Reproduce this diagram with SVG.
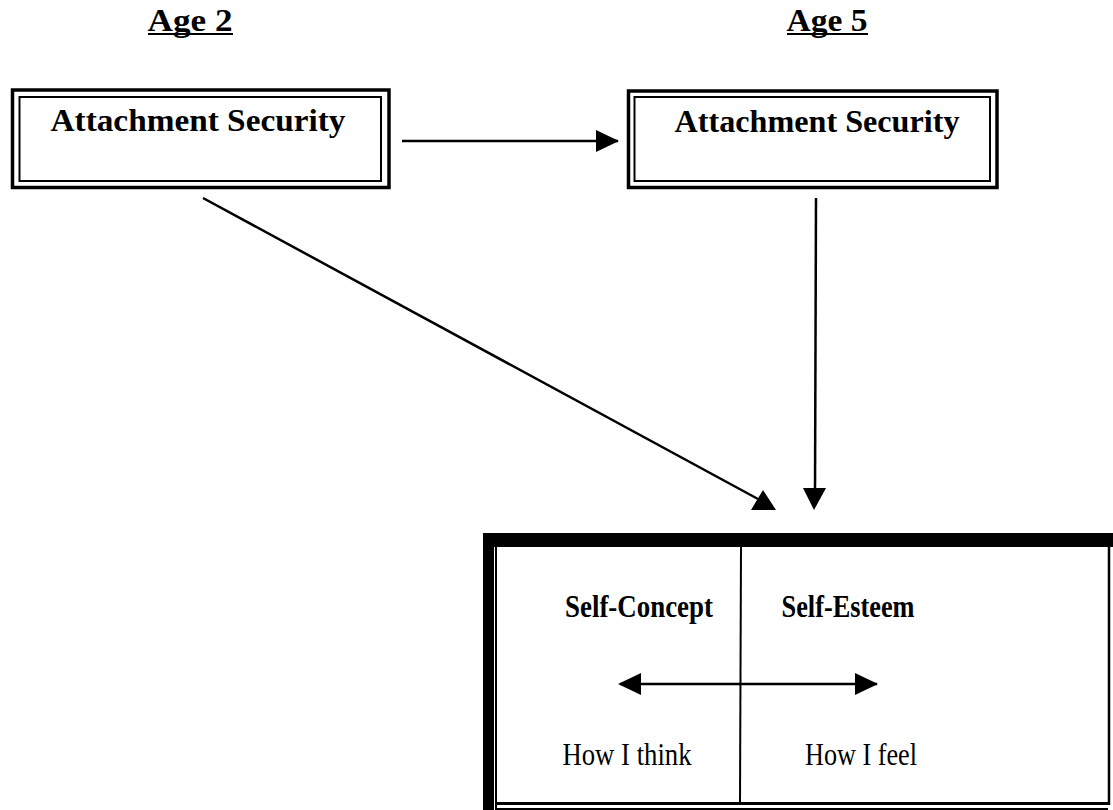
<svg xmlns="http://www.w3.org/2000/svg" width="1113" height="810" viewBox="0 0 1113 810">
<style>
  .t { font-family: "Liberation Serif", "Times New Roman", serif; fill: #000; }
  .b { font-weight: bold; }
  .ln { stroke: #000; stroke-width: 2.5; fill: none; }
  .outer { stroke: #000; stroke-width: 3.5; fill: #fff; }
  .inner { stroke: #000; stroke-width: 2; fill: none; }
</style>
<defs>
  <marker id="ah" markerWidth="24" markerHeight="22" refX="22" refY="11" orient="auto" markerUnits="userSpaceOnUse">
    <path d="M0,0 L23,11 L0,22 Z" fill="#000"/>
  </marker>
  <marker id="ahs" markerWidth="24" markerHeight="22" refX="2" refY="11" orient="auto" markerUnits="userSpaceOnUse">
    <path d="M23,0 L0,11 L23,22 Z" fill="#000"/>
  </marker>
</defs>
<rect width="1113" height="810" fill="#fff"/>

<g id="labels">
  <text class="t b" x="190" y="31" font-size="31" text-anchor="middle" textLength="85" lengthAdjust="spacingAndGlyphs">Age 2</text>
  <line x1="148" y1="34" x2="233" y2="34" stroke="#000" stroke-width="2"/>
  <text class="t b" x="827" y="31" font-size="31" text-anchor="middle" textLength="81" lengthAdjust="spacingAndGlyphs">Age 5</text>
  <line x1="787" y1="34" x2="868" y2="34" stroke="#000" stroke-width="2"/>
</g>

<g id="node-attach2">
  <rect class="outer" x="12.5" y="90" width="376.5" height="97.5"/>
  <rect class="inner" x="19.5" y="97" width="361.5" height="84"/>
  <text class="t b" x="198" y="131" font-size="31" text-anchor="middle" textLength="295" lengthAdjust="spacingAndGlyphs">Attachment Security</text>
</g>

<g id="node-attach5">
  <rect class="outer" x="628.5" y="91" width="368.5" height="96.5"/>
  <rect class="inner" x="634.5" y="97" width="355.5" height="84"/>
  <text class="t b" x="817" y="132" font-size="31" text-anchor="middle" textLength="285" lengthAdjust="spacingAndGlyphs">Attachment Security</text>
</g>

<g id="node-self">
  <path d="M483,533 H1113 V810 H483 Z M497,547 V802 H1108 V547 Z" fill="#000" fill-rule="evenodd"/>
  <rect x="497" y="547" width="611" height="255" fill="#fff"/>
  <line x1="494.5" y1="547" x2="494.5" y2="810" stroke="#fff" stroke-width="1"/>
  <line x1="497" y1="805.5" x2="1108" y2="805.5" stroke="#fff" stroke-width="5"/>
  <line x1="1110.5" y1="547" x2="1110.5" y2="810" stroke="#fff" stroke-width="5"/>
  <line x1="497" y1="803.5" x2="1110" y2="803.5" stroke="#000" stroke-width="3"/>
  <line x1="1109" y1="547" x2="1109" y2="805" stroke="#000" stroke-width="2.5"/>
  <line x1="741" y1="547" x2="740" y2="802" stroke="#000" stroke-width="2"/>
  <text class="t b" x="639" y="617" font-size="31" text-anchor="middle" textLength="148" lengthAdjust="spacingAndGlyphs">Self-Concept</text>
  <text class="t b" x="848" y="617" font-size="31" text-anchor="middle" textLength="133" lengthAdjust="spacingAndGlyphs">Self-Esteem</text>
  <text class="t" x="627" y="765" font-size="31" text-anchor="middle" textLength="129" lengthAdjust="spacingAndGlyphs">How I think</text>
  <text class="t" x="861" y="765" font-size="31" text-anchor="middle" textLength="112" lengthAdjust="spacingAndGlyphs">How I feel</text>
</g>

<g id="connectors">
  <line class="ln" x1="402" y1="141" x2="618" y2="141" marker-end="url(#ah)"/>
  <line class="ln" x1="203" y1="198" x2="758" y2="499"/>
  <polygon points="751,510 776,510 763,490" fill="#000"/>
  <line class="ln" x1="816" y1="198" x2="815" y2="492"/>
  <polygon points="803,488 826,488 814,510" fill="#000"/>
  <line class="ln" x1="620" y1="684" x2="877" y2="684" marker-start="url(#ahs)" marker-end="url(#ah)"/>
</g>
</svg>
